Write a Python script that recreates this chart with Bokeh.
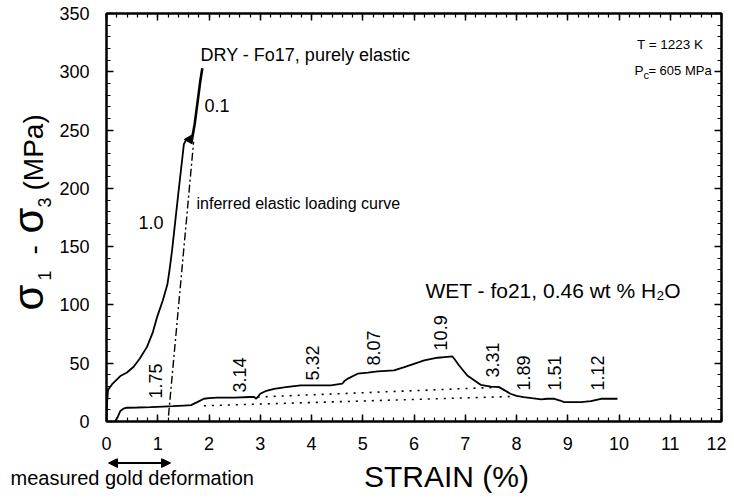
import math
from bokeh.plotting import figure
from bokeh.layouts import row, column
from bokeh.models import Range1d, LinearAxis, SingleIntervalTicker, Arrow, NormalHead
from bokeh.core.properties import value
from bokeh.embed import file_html
from bokeh.resources import INLINE

FONT = "Liberation Sans"

# ---------------- data ----------------
dry_strain = [0, 0.01, 0.03, 0.06, 0.11, 0.2, 0.27, 0.4, 0.53, 0.65, 0.79, 0.9, 0.99, 1.1, 1.19, 1.23, 1.28, 1.4, 1.51, 1.57]
dry_stress = [0, 15, 27, 29, 32, 36, 39, 42, 47, 54, 64, 76, 90, 104, 118, 130, 147, 195, 238, 243]

dry_fast_strain = [1.66, 1.72, 1.78, 1.83, 1.87]
dry_fast_stress = [240, 255, 275, 292, 303]

elastic_strain = [1.21, 1.70]
elastic_stress = [5, 240]

wet_strain = [0.17, 0.22, 0.27, 0.33, 0.4, 0.6, 0.86, 1.1, 1.3, 1.51, 1.65, 1.77, 1.9, 2.0, 2.16, 2.5,
              2.8, 2.88, 2.92, 3.0, 3.1, 3.27, 3.5, 3.79, 4.0, 4.38, 4.6, 4.65, 4.72, 4.9, 5.1, 5.29,
              5.61, 5.81, 6.0, 6.2, 6.46, 6.6, 6.75, 6.8, 6.88, 7.04, 7.3, 7.5, 7.66, 7.78, 7.88, 8.0,
              8.14, 8.3, 8.48, 8.6, 8.74, 8.85, 8.93, 9.1, 9.26, 9.45, 9.65, 9.8, 9.97]
wet_stress = [0, 4, 9, 11, 11.8, 12, 12.3, 12.8, 13.2, 13.7, 14, 16.6, 19.5, 20, 20.4, 20.5,
              21, 21, 19.5, 23.8, 26, 28, 29.5, 31, 31, 31, 32.4, 35, 37, 41, 42, 43,
              43.8, 46.6, 49.5, 52.4, 54.7, 55.3, 55.8, 53, 48, 39.5, 31.5, 30, 29.5, 26.5, 23.8, 22,
              21, 20, 19, 19.5, 19.5, 18, 16.6, 16.6, 16.6, 17.5, 19.5, 19.5, 19.5]

dot_upper_strain = [2.95, 7.7]
dot_upper_stress = [21, 29.5]
dot_lower_strain = [1.9, 7.95]
dot_lower_stress = [13.5, 21.5]

rate_labels = ["1.75", "3.14", "5.32", "8.07", "10.9", "3.31", "1.89", "1.51", "1.12"]
rate_x = [0.955, 2.6, 4.01, 5.2, 6.51, 7.54, 8.13, 8.75, 9.59]
rate_y = [19.8, 24.9, 35.2, 48.1, 61, 37.8, 26.6, 26.6, 26.6]

x_ticks = list(range(0, 13))
y_ticks = list(range(0, 351, 50))

# ---------------- geometry of the pieces ----------------
LEFT_W, MAIN_W, MAIN_H, BOTTOM_H = 56, 670, 458, 35
PX_PER_STRAIN = 615 / 12.0
FRAME_LEFT = LEFT_W + 50


def clean(fig):
    fig.grid.visible = False
    fig.outline_line_color = None
    fig.background_fill_color = "white"
    fig.border_fill_color = "white"


# ---------------- main figure ----------------
p = figure(width=MAIN_W, height=MAIN_H, x_range=Range1d(0, 12), y_range=Range1d(0, 350),
           output_backend="svg", toolbar_location=None,
           min_border_left=50, min_border_right=5, min_border_top=13, min_border_bottom=37)
p.background_fill_color = "white"
p.border_fill_color = "white"
p.grid.visible = False
p.outline_line_color = "black"
p.outline_line_width = 2

p.xaxis.ticker = SingleIntervalTicker(interval=1, num_minor_ticks=5)
p.yaxis.ticker = SingleIntervalTicker(interval=50, num_minor_ticks=5)


def style_axis(ax, show_labels, ticks):
    ax.axis_line_width = 2
    ax.axis_line_color = "black"
    ax.major_tick_in = 7
    ax.major_tick_out = 0
    ax.minor_tick_in = 4
    ax.minor_tick_out = 0
    ax.major_tick_line_width = 1.5
    ax.minor_tick_line_width = 1.2
    ax.major_tick_line_color = "black"
    ax.minor_tick_line_color = "black"
    if show_labels:
        ax.major_label_text_font = FONT
        ax.major_label_text_font_size = "18px"
        ax.major_label_text_color = "black"
    else:
        ax.major_label_overrides = {t: "" for t in ticks}
        ax.major_label_standoff = 0


style_axis(p.xaxis[0], True, x_ticks)
style_axis(p.yaxis[0], True, y_ticks)
p.xaxis[0].major_label_standoff = 15
p.yaxis[0].major_label_standoff = 17

top = LinearAxis(ticker=SingleIntervalTicker(interval=1, num_minor_ticks=5))
right = LinearAxis(ticker=SingleIntervalTicker(interval=50, num_minor_ticks=5))
style_axis(top, False, x_ticks)
style_axis(right, False, y_ticks)
p.add_layout(top, "above")
p.add_layout(right, "right")

# curves
p.line(dry_strain, dry_stress, line_color="black", line_width=1.8)
p.line(dry_fast_strain, dry_fast_stress, line_color="black", line_width=2.6)
p.scatter([1.62], [242], marker="triangle", size=9, angle=math.pi / 2,
          fill_color="black", line_color="black")
p.line(elastic_strain, elastic_stress, line_color="black", line_width=1.4, line_dash="8 3 2 3")
p.line(wet_strain, wet_stress, line_color="black", line_width=1.8)
p.line(dot_upper_strain, dot_upper_stress, line_color="black", line_width=1.6, line_dash="2 6")
p.line(dot_lower_strain, dot_lower_stress, line_color="black", line_width=1.6, line_dash="2 6")

p.text(x=rate_x, y=rate_y, text=rate_labels, angle=math.pi / 2, text_align="left",
       text_baseline="middle", text_font=value(FONT), text_font_size="18px", text_color="black")


def txt(fig, x, y, text, size="18px", align="left", angle=0, xo=0, yo=0):
    fig.text(x=[x], y=[y], text=[text], angle=angle, text_align=align, text_baseline="middle",
             text_font=value(FONT), text_font_size=size, text_color="black",
             x_offset=xo, y_offset=yo)


txt(p, 1.834, 314.0, "DRY - Fo17, purely elastic")
txt(p, 1.91, 270.7, "0.1")
txt(p, 0.624, 171.1, "1.0")
txt(p, 1.756, 186.6, "inferred elastic loading curve", size="16px")
txt(p, 6.224, 112.4, "WET - fo21, 0.46 wt % H₂O", size="21px")
txt(p, 10.35, 323.8, "T = 1223 K", size="13.5px")
txt(p, 10.30, 301.1, "P", size="13.5px")
txt(p, 10.30, 301.1, "c", size="11px", xo=9, yo=4)
txt(p, 10.30, 301.1, "= 605 MPa", size="13px", xo=14)

# ---------------- left strip: y-axis title (frame aligned with main frame) ----------------
lf = figure(width=LEFT_W, height=MAIN_H, x_range=Range1d(0, LEFT_W), y_range=Range1d(0, 350),
            output_backend="svg", toolbar_location=None, min_border=0,
            x_axis_location=None, y_axis_location=None)
clean(lf)
ytitle_text = ["σ", "1", "-", "σ", "3", "(MPa)"]
ytitle_x = [28.3, 43.7, 33.2, 28.3, 43.7, 33.2]
ytitle_y = [95.2, 121.0, 143.3, 161.3, 183.6, 198.2]
ytitle_size = ["42px", "18px", "28px", "42px", "18px", "28px"]
for t, xx, yy, s in zip(ytitle_text, ytitle_x, ytitle_y, ytitle_size):
    txt(lf, xx, yy, t, size=s, angle=math.pi / 2)

# ---------------- bottom strip: x title, gold note, arrow ----------------
bf = figure(width=LEFT_W + MAIN_W, height=BOTTOM_H,
            x_range=Range1d(-FRAME_LEFT / PX_PER_STRAIN, (LEFT_W + MAIN_W - FRAME_LEFT) / PX_PER_STRAIN),
            y_range=Range1d(0, BOTTOM_H),
            output_backend="svg", toolbar_location=None, min_border=0,
            x_axis_location=None, y_axis_location=None)
clean(bf)
txt(bf, 6.634, 17.5, "STRAIN (%)", size="30px", align="center")
txt(bf, -1.873, 15.5, "measured gold deformation", size="20px")
gold_start, gold_end = 0.04, 1.25
bf.add_layout(Arrow(start=NormalHead(size=9, fill_color="black", line_color="black"),
                    end=NormalHead(size=9, fill_color="black", line_color="black"),
                    x_start=gold_start, y_start=30.5, x_end=gold_end, y_end=30.5,
                    line_width=2, line_color="black"))

layout = column(row(lf, p), bf)
open("out.html", "w").write(file_html(layout, INLINE))
